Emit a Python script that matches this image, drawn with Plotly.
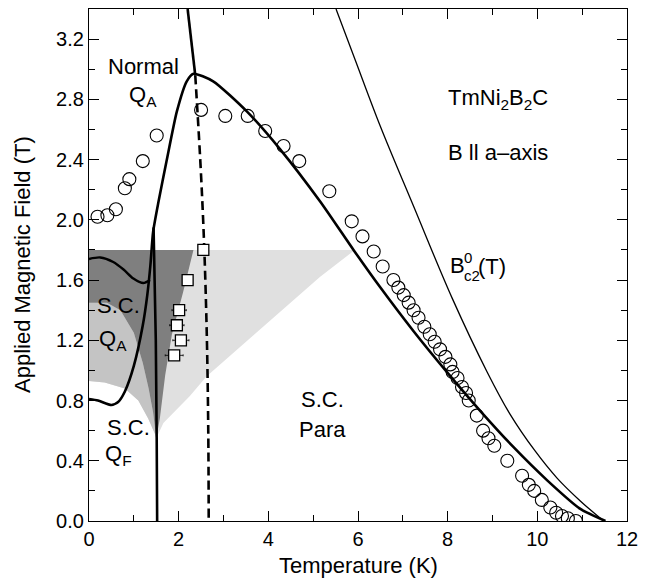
import plotly.graph_objects as go

# ---- data ----
circ_T = [0.19,0.41,0.60,0.80,0.90,1.20,1.51,2.50,3.04,3.54,3.93,4.34,4.69,5.36,5.86,6.10,6.35,6.55,6.79,6.90,7.02,7.13,7.24,7.35,7.48,7.60,7.71,7.83,7.95,8.06,8.11,8.22,8.32,8.41,8.47,8.65,8.79,8.91,9.04,9.33,9.66,9.81,9.93,10.10,10.29,10.42,10.55,10.68,10.86]
circ_B = [2.02,2.03,2.07,2.21,2.27,2.39,2.56,2.73,2.69,2.69,2.59,2.49,2.39,2.19,1.99,1.89,1.79,1.69,1.60,1.55,1.50,1.45,1.40,1.35,1.29,1.24,1.19,1.14,1.09,1.04,0.99,0.95,0.89,0.85,0.80,0.70,0.60,0.55,0.50,0.40,0.30,0.24,0.20,0.14,0.09,0.055,0.033,0.018,0.0]

sq_T = [2.55,2.20,2.01,1.96,2.05,1.90]
sq_B = [1.80,1.60,1.40,1.30,1.20,1.10]
sq_err = [0.0,0.0,0.16,0.16,0.18,0.20]

bc2_T = [0.0,0.2,0.5,0.65,0.8,1.0,1.2,1.3,1.37,1.43,1.55,1.73,1.96,2.18,2.33,2.77,3.52,4.26,5.16,5.90,6.50,7.24,7.98,8.73,9.47,10.22,10.96,11.52]
bc2_B = [0.81,0.80,0.77,0.79,0.86,1.03,1.30,1.50,1.70,1.92,2.12,2.39,2.72,2.92,2.97,2.92,2.72,2.47,2.12,1.80,1.55,1.26,0.99,0.73,0.49,0.27,0.08,0.0]

bc20_T = [5.51,5.94,6.50,7.24,8.10,8.88,9.39,9.95,10.44,10.97,11.48]
bc20_B = [3.40,3.06,2.62,2.09,1.48,0.99,0.71,0.465,0.285,0.13,0.0]

inner_T = [0.0,0.25,0.54,0.77,0.99,1.21,1.36]
inner_B = [1.74,1.75,1.72,1.67,1.61,1.58,1.60]

vert_T = [1.44,1.49,1.51,1.52]
vert_B = [1.95,1.20,0.55,0.0]

top_T = [2.20,2.37]
top_B = [3.40,2.96]

dash_T = [2.37,2.49,2.57,2.63,2.66,2.67]
dash_B = [2.96,2.35,1.82,1.20,0.60,0.0]

# shaded regions
light_T = [1.5,1.66,2.25,2.62,5.15,5.93,0.0,0.0,0.35,0.8,1.1,1.32,1.47,1.5]
light_B = [0.55,0.65,0.83,0.96,1.62,1.80,1.80,0.93,0.92,0.88,0.80,0.68,0.58,0.55]
med_T = [0.0,0.4,0.7,1.0,1.2,1.33,1.43,1.5,1.47,1.32,1.1,0.8,0.35,0.0]
med_B = [1.45,1.45,1.40,1.25,1.05,0.88,0.72,0.55,0.58,0.68,0.80,0.88,0.92,0.93]
dark_T = [0.0,2.33,2.10,1.85,1.70,1.58,1.5,1.43,1.33,1.2,1.0,0.7,0.4,0.0]
dark_B = [1.80,1.80,1.52,1.24,0.97,0.68,0.55,0.72,0.88,1.05,1.25,1.40,1.45,1.45]

FONT = "Liberation Sans, Arial, sans-serif"

fig = go.Figure()
fig.add_trace(go.Scatter(x=light_T, y=light_B, fill="toself", fillcolor="#e0e0e0",
                         mode="lines", line=dict(width=0), hoverinfo="skip"))
fig.add_trace(go.Scatter(x=med_T, y=med_B, fill="toself", fillcolor="#c4c4c4",
                         mode="lines", line=dict(width=0), hoverinfo="skip"))
fig.add_trace(go.Scatter(x=dark_T, y=dark_B, fill="toself", fillcolor="#7f7f7f",
                         mode="lines", line=dict(width=0), hoverinfo="skip"))

fig.add_trace(go.Scatter(x=bc20_T, y=bc20_B, mode="lines",
                         line=dict(color="black", width=1.3, shape="spline", smoothing=1.0)))
fig.add_trace(go.Scatter(x=bc2_T, y=bc2_B, mode="lines",
                         line=dict(color="black", width=2.6, shape="spline", smoothing=0.6)))
fig.add_trace(go.Scatter(x=inner_T, y=inner_B, mode="lines",
                         line=dict(color="black", width=2.4, shape="spline", smoothing=0.8)))
fig.add_trace(go.Scatter(x=vert_T, y=vert_B, mode="lines",
                         line=dict(color="black", width=2.6, shape="spline")))
fig.add_trace(go.Scatter(x=top_T, y=top_B, mode="lines",
                         line=dict(color="black", width=2.6)))
fig.add_trace(go.Scatter(x=dash_T, y=dash_B, mode="lines",
                         line=dict(color="black", width=2.6, dash="9px,5px", shape="spline")))

fig.add_trace(go.Scatter(x=circ_T, y=circ_B, mode="markers",
                         marker=dict(symbol="circle-open", size=13, color="black",
                                     line=dict(width=1.1, color="black"))))
fig.add_trace(go.Scatter(x=sq_T, y=sq_B, mode="markers",
                         error_x=dict(type="data", array=sq_err, color="black",
                                      thickness=0.8, width=1),
                         marker=dict(symbol="square", size=11, color="white",
                                     line=dict(width=1.3, color="black"))))

def ann(x, y, text, size=22, xanchor="left"):
    fig.add_annotation(x=x, y=y, text=text, showarrow=False, xanchor=xanchor,
                       yanchor="middle", font=dict(family=FONT, size=size, color="black"))

ann(1.215, 3.02, "Normal", xanchor="center")
ann(1.20, 2.82, "Q<sub>A</sub>", xanchor="center")
ann(7.96, 2.80, "TmNi<sub>2</sub>B<sub>2</sub>C")
ann(7.96, 2.45, "B ll a–axis")
ann(8.00, 1.70, "B")
ann(8.31, 1.75, "0", size=15)
ann(8.31, 1.63, "c2", size=15)
ann(8.63, 1.69, "(T)")
ann(0.14, 1.43, "S.C.")
ann(0.17, 1.20, "Q<sub>A</sub>")
ann(0.36, 0.62, "S.C.")
ann(0.32, 0.44, "Q<sub>F</sub>")
ann(5.20, 0.81, "S.C.", xanchor="center")
ann(5.20, 0.61, "Para", xanchor="center")

# axis titles as annotations for exact placement
fig.add_annotation(x=0.5, y=0, xref="paper", yref="paper", text="Temperature (K)",
                   showarrow=False, xanchor="center", yanchor="middle", yshift=-44,
                   font=dict(family=FONT, size=22, color="black"))
fig.add_annotation(x=0, y=0.5, xref="paper", yref="paper", text="Applied Magnetic Field (T)",
                   showarrow=False, xanchor="center", yanchor="middle", xshift=-67,
                   textangle=-90, font=dict(family=FONT, size=22, color="black"))

axis_common = dict(showline=True, linecolor="black", linewidth=1.3, mirror="ticks",
                   ticks="inside", ticklen=10, tickwidth=1.2, tickcolor="black",
                   showgrid=False, zeroline=False, automargin=False,
                   tickfont=dict(family=FONT, size=20, color="black"))
fig.update_xaxes(range=[0, 12], dtick=2, tick0=0,
                 minor=dict(dtick=1, ticks="inside", ticklen=6, tickwidth=1.2, tickcolor="black"),
                 **axis_common)
fig.update_yaxes(range=[0, 3.4], dtick=0.4, tick0=0, tickformat=".1f",
                 minor=dict(dtick=0.2, ticks="inside", ticklen=6, tickwidth=1.2, tickcolor="black"),
                 **axis_common)
# page body has an 8px margin, so the figure is sized/offset to put the frame where the reference has it
fig.update_layout(width=644, height=572, showlegend=False,
                  margin=dict(l=81, r=25, t=1, b=59),
                  plot_bgcolor="white", paper_bgcolor="white")
fig.write_html("out.html")
